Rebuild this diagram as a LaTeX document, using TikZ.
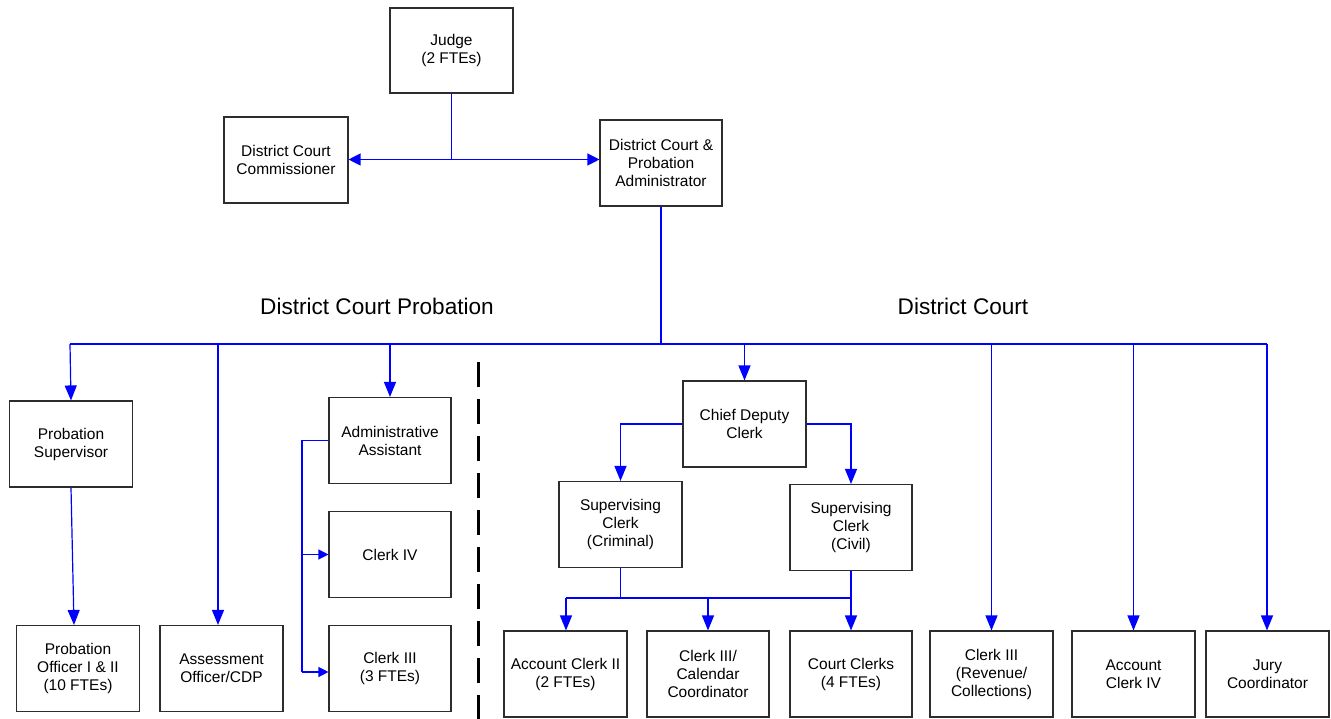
\documentclass[tikz,border=0pt]{standalone}
\usepackage{fontspec}
\setmainfont{Liberation Sans}
\usetikzlibrary{arrows.meta,calc}
\definecolor{boxline}{RGB}{45,45,45}
\tikzset{
  box/.style={draw=boxline, line width=1.1pt, rectangle, align=center,
    minimum width=123pt, minimum height=86pt, inner sep=1pt,
    font=\fontsize{15.5}{18}\selectfont},
  link/.style={draw=blue, line width=1.2pt},
  arr/.style={link, -{Triangle[length=15pt,width=12pt]}},
  sarr/.style={link, -{Triangle[length=10pt,width=10pt]}},
  darr/.style={link, {Triangle[length=12pt,width=12pt]}-{Triangle[length=12pt,width=12pt]}},
  title/.style={font=\fontsize{22.6}{27}\selectfont, inner sep=0pt},
  divider/.style={draw=black, line width=3pt, dash pattern=on 25pt off 12pt}
}
\begin{document}
\begin{tikzpicture}[x=1pt,y=-1pt]
\useasboundingbox (0,0) rectangle (1331,719);

% top level
\node[box, minimum height=85pt] (judge) at (451.5,50.5) {Judge\\(2 FTEs)};
\node[box, minimum width=124pt] (comm) at (286,160) {District Court\\Commissioner};
\node[box, minimum width=122pt] (admin) at (661,163) {District Court \&\\Probation\\Administrator};

% titles
\node[title] (tprob) at (377,306) {District Court Probation};
\node[title] (tcourt) at (963,306) {District Court};

% probation side
\node[box] (ps) at (71,444) {Probation\\Supervisor};
\node[box] (po) at (78,668.5) {Probation\\Officer I \& II\\(10 FTEs)};
\node[box] (ao) at (221.5,668.5) {Assessment\\Officer/CDP};
\node[box, minimum width=122pt] (aa) at (390,440.5) {Administrative\\Assistant};
\node[box, minimum width=122pt] (c4) at (390,554.5) {Clerk IV};
\node[box, minimum width=122pt] (c3) at (390,668.5) {Clerk III\\(3 FTEs)};

% court side
\node[box] (cdc) at (744.5,424) {Chief Deputy\\Clerk};
\node[box] (scc) at (620.5,524.5) {Supervising\\Clerk\\(Criminal)};
\node[box, minimum width=122pt] (scv) at (851,527.5) {Supervising\\Clerk\\(Civil)};
\node[box] (ac2) at (565.5,674) {Account Clerk II\\(2 FTEs)};
\node[box, minimum width=122pt] (c3cal) at (708,674) {Clerk III/\\Calendar\\Coordinator};
\node[box, minimum width=122pt] (cc) at (851,674) {Court Clerks\\(4 FTEs)};
\node[box] (c3rev) at (991.5,674) {Clerk III\\(Revenue/\\Collections)};
\node[box] (ac4) at (1133.5,674) {Account\\Clerk IV};
\node[box] (jury) at (1267.5,674) {Jury\\Coordinator};

% divider
\coordinate (dtop) at (478,362);
\coordinate (dbot) at (478,719);
\draw[divider] (dtop) -- (dbot);

% judge connectors
\coordinate (j) at (451.5,159.5);
\draw[link] (judge.south) -- (j);
\draw[darr] (comm.east |- j) -- (admin.west |- j);

% main bus
\coordinate (busL) at (70,344);
\coordinate (busR) at (1267,344);
\draw[link] (admin.south) -- (admin.south |- busL);
\draw[link] (busL) -- (busR);

% probation branches
\draw[arr] (busL) -- (ps.north);
\draw[arr] (ps.south) -- ($(po.north)+(-4,0)$);
\coordinate (aoT) at (218,344);
\draw[arr] (aoT) -- (aoT |- ao.north);
\draw[arr] (aa.north |- busL) -- (aa.north);

% admin assistant bracket
\coordinate (bk) at (302,440.5);
\coordinate (bk3) at (302,672);
\draw[link] (aa.west) -- (bk) -- (bk3);
\draw[sarr] (bk |- c4.west) -- (c4.west);
\draw[sarr] (bk3) -- (bk3 -| c3.west);

% court branches
\draw[arr] (cdc.north |- busL) -- (cdc.north);
\draw[arr] (c3rev.north |- busL) -- (c3rev.north);
\draw[arr] (ac4.north |- busL) -- (ac4.north);
\draw[arr] (busR) -- (busR |- jury.north);

% chief deputy clerk
\draw[arr] (cdc.west) -| (scc.north);
\draw[arr] (cdc.east) -| (scv.north);

% supervising clerks
\coordinate (sb) at (620.5,597);
\coordinate (sbL) at (566,598);
\coordinate (sbR) at (851,598);
\draw[link] (scc.south) -- (sb);
\draw[link] (sbL) -- (sbR);
\draw[arr] (sbL) -- (sbL |- ac2.north);
\draw[arr] (c3cal.north |- sbL) -- (c3cal.north);
\draw[arr] (scv.south) -- (cc.north);
\end{tikzpicture}
\end{document}
